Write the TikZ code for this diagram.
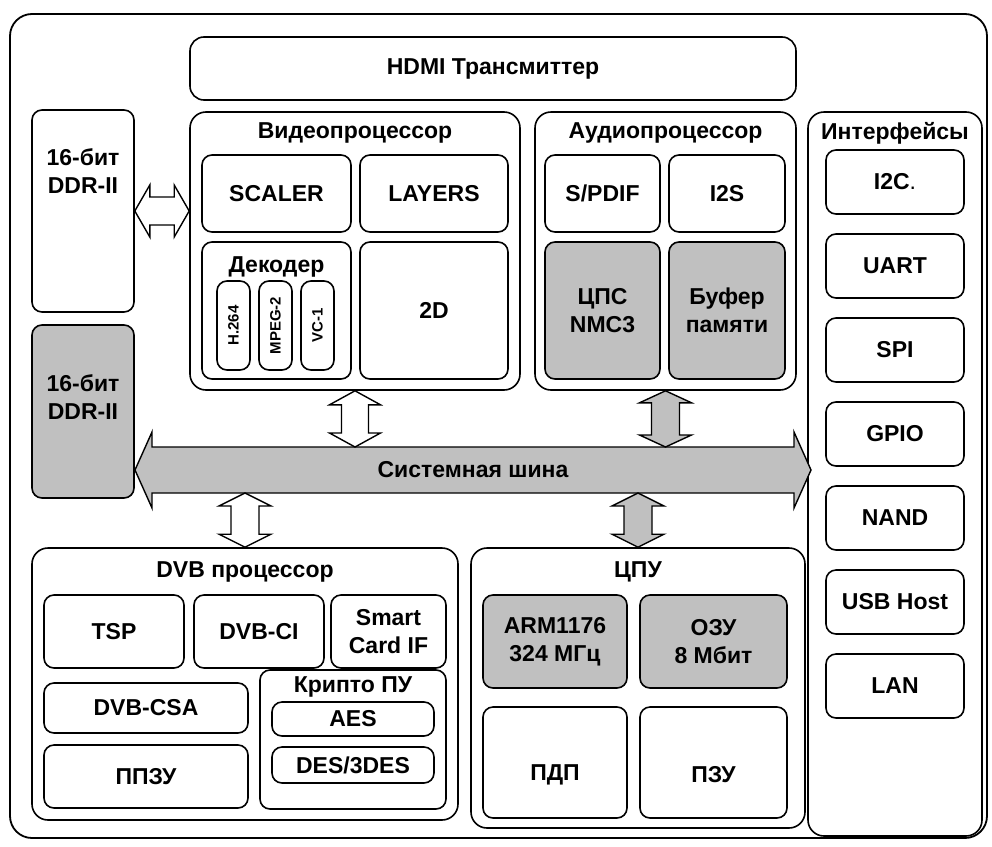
\documentclass[tikz,border=0pt]{standalone}
\usepackage{fontspec}
\setmainfont{Liberation Sans}
\usetikzlibrary{calc,positioning}
\definecolor{boxgray}{RGB}{192,192,192}

% block arrows: fill, first end, second end, half shaft, half head, head length
\newcommand{\hbarrow}[6]{%
  \draw[blk,fill=#1] let \p1=(#2), \p2=(#3) in
    (\x1,\y1) -- (\x1+#6pt,\y1+#5pt) -- (\x1+#6pt,\y1+#4pt) -- (\x2-#6pt,\y1+#4pt)
    -- (\x2-#6pt,\y1+#5pt) -- (\x2,\y1) -- (\x2-#6pt,\y1-#5pt) -- (\x2-#6pt,\y1-#4pt)
    -- (\x1+#6pt,\y1-#4pt) -- (\x1+#6pt,\y1-#5pt) -- cycle;}
\newcommand{\vbarrow}[6]{%
  \draw[blk,fill=#1] let \p1=(#2), \p2=(#3) in
    (\x1,\y1) -- (\x1+#5pt,\y1-#6pt) -- (\x1+#4pt,\y1-#6pt) -- (\x1+#4pt,\y2+#6pt)
    -- (\x1+#5pt,\y2+#6pt) -- (\x1,\y2) -- (\x1-#5pt,\y2+#6pt) -- (\x1-#4pt,\y2+#6pt)
    -- (\x1-#4pt,\y1-#6pt) -- (\x1-#5pt,\y1-#6pt) -- cycle;}

\begin{document}
\begin{tikzpicture}[x=1pt,y=-1pt,
  lbl/.style={font=\bfseries\fontsize{23}{28}\selectfont,align=center,inner sep=0pt},
  box/.style={lbl,draw,line width=1.6pt,rounded corners=10pt},
  grp/.style={box,rounded corners=16pt},
  gbox/.style={box,fill=boxgray},
  pill/.style={box,rounded corners=10pt,font=\bfseries\fontsize{15}{18}\selectfont},
  blk/.style={draw,line width=1.4pt,line join=miter}]
\useasboundingbox (0,0) rectangle (992,846);

% outer frame
\node[grp,rounded corners=22pt,line width=1.8pt,minimum width=977pt,minimum height=824pt] (board) at (498.5,426) {};

\node[box,rounded corners=14pt,minimum width=606pt,minimum height=63pt] (hdmi) at (493,68.5) {HDMI Трансмиттер};

% memory
\node[box,minimum width=102pt,minimum height=202pt] (ddra) at (83,211) {};
\node[lbl] (ddrat) at (83,171) {16-бит\\DDR-II};
\node[gbox,minimum width=102pt,minimum height=173pt] (ddrb) at (83,411.5) {};
\node[lbl] (ddrbt) at (83,397) {16-бит\\DDR-II};

% video
\node[grp,minimum width=330pt,minimum height=278pt] (video) at (355,251) {};
\node[lbl] (videot) at (355,133) {Видеопроцессор};
\node[box,minimum width=149pt,minimum height=77pt] (scaler) at (276.5,193.5) {SCALER};
\node[box,minimum width=148pt,minimum height=77pt] (layers) at (434,193.5) {LAYERS};
\node[box,minimum width=149pt,minimum height=137pt] (dec) at (276.5,310.5) {};
\node[lbl] (dect) at (276.5,267) {Декодер};
\node[pill,rotate=90,minimum width=89pt,minimum height=33pt] (h264) at (233.5,325.5) {H.264};
\node[pill,rotate=90,minimum width=89pt,minimum height=33pt] (mpeg) at (275.5,325.5) {MPEG-2};
\node[pill,rotate=90,minimum width=89pt,minimum height=33pt] (vc1) at (317.5,325.5) {VC-1};
\node[box,minimum width=148pt,minimum height=137pt] (twod) at (434,310.5) {2D};

% audio
\node[grp,minimum width=261pt,minimum height=278pt] (audio) at (665.5,251) {};
\node[lbl] (audiot) at (665.5,133) {Аудиопроцессор};
\node[box,minimum width=115pt,minimum height=77pt] (spdif) at (602.5,193.5) {S/PDIF};
\node[box,minimum width=116pt,minimum height=77pt] (itwos) at (727,193.5) {I2S};
\node[gbox,minimum width=115pt,minimum height=137pt] (dsp) at (602.5,310.5) {ЦПС\\NMC3};
\node[gbox,minimum width=116pt,minimum height=137pt] (buf) at (727,310.5) {Буфер\\памяти};

% interfaces
\node[grp,minimum width=174pt,minimum height=724pt] (ifaces) at (895,474) {};
\node[lbl] (ifacest) at (895,133) {Интерфейсы};
\foreach \t [count=\i from 0] in {I2C{\mdseries.},UART,SPI,GPIO,NAND,USB Host,LAN}
  \node[box,minimum width=138pt,minimum height=64pt] (if\i) at (895,182+84*\i) {\t};

% system bus
\coordinate (busl) at (135,470);
\coordinate (busr) at (811,470);
\coordinate (busn) at (473,447);
\coordinate (buss) at (473,493);
\hbarrow{boxgray}{busl}{busr}{23}{38}{17}
\node[lbl] (bust) at ($(busl)!0.5!(busr)$) {Системная шина};

% dvb
\node[grp,minimum width=426pt,minimum height=272pt] (dvb) at (245,684) {};
\node[lbl] (dvbt) at (245,572) {DVB процессор};
\node[box,minimum width=140pt,minimum height=73pt] (tsp) at (114,631.5) {TSP};
\node[box,minimum width=130pt,minimum height=73pt] (dvbci) at (259,631.5) {DVB-CI};
\node[box,minimum width=115pt,minimum height=73pt] (smart) at (388.5,631.5) {Smart\\Card IF};
\node[box,minimum width=204pt,minimum height=50pt] (csa) at (146,708) {DVB-CSA};
\node[box,minimum width=204pt,minimum height=63pt] (ppzu) at (146,776.5) {ППЗУ};
\node[box,minimum width=186pt,minimum height=139pt] (crypto) at (353,739.5) {};
\node[lbl] (cryptot) at (353,687) {Крипто ПУ};
\node[box,minimum width=162pt,minimum height=34pt] (aes) at (353,719) {AES};
\node[box,minimum width=162pt,minimum height=36pt] (des) at (353,765) {DES/3DES};

% cpu
\node[grp,minimum width=334pt,minimum height=280pt] (cpu) at (638,688) {};
\node[lbl] (cput) at (638,572) {ЦПУ};
\node[gbox,minimum width=144pt,minimum height=93pt] (arm) at (555,641.5) {ARM1176\\324 МГц};
\node[gbox,minimum width=147pt,minimum height=93pt] (ozu) at (713.5,641.5) {ОЗУ\\8 Мбит};
\node[box,minimum width=144pt,minimum height=111pt] (pdp) at (555,762.5) {};
\node[lbl] (pdpt) at (555,775) {ПДП};
\node[box,minimum width=147pt,minimum height=111pt] (pzu) at (713.5,762.5) {};
\node[lbl] (pzut) at (713.5,775) {ПЗУ};

% links
\hbarrow{white}{ddra.east}{ddra.east -| video.west}{14}{26}{15}
\vbarrow{white}{video.south}{video.south |- busn}{13.5}{25.5}{14}
\vbarrow{boxgray}{audio.south}{audio.south |- busn}{14}{26}{12}
\vbarrow{white}{dvb.north |- buss}{dvb.north}{14}{26}{13}
\vbarrow{boxgray}{cpu.north |- buss}{cpu.north}{14}{26}{13}
\end{tikzpicture}
\end{document}
